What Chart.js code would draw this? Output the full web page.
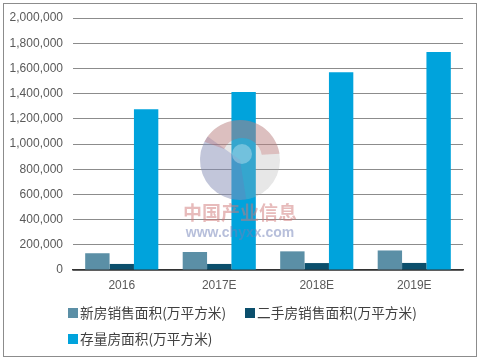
<!DOCTYPE html>
<html>
<head>
<meta charset="utf-8">
<script src="https://cdn.jsdelivr.net/npm/chart.js@4/dist/chart.umd.min.js"></script>
<style>
  html, body { margin: 0; padding: 0; background: #ffffff; }
  #wrap { position: relative; width: 480px; height: 359px; }
</style>
</head>
<body>
<div id="wrap"><canvas id="c" width="480" height="359"></canvas></div>
<script>
const categories = ['2016', '2017E', '2018E', '2019E'];
const seriesNames = ['新房销售面积(万平方米)', '二手房销售面积(万平方米)', '存量房面积(万平方米)'];
const newHouseSales = [133000, 143000, 148000, 155000];
const secondHandSales = [48000, 48000, 55000, 56000];
const stockArea = [1275000, 1413000, 1569000, 1730000];
const yTicksMax = 2000000;
const yTickStep = 200000;

const colors = ['#5b8fa6', '#0b4f6c', '#00a3dc'];
const legendPos = [{x: 68, y: 313}, {x: 245, y: 313}, {x: 68, y: 339}];

const decorPlugin = {
  id: 'decor',
  afterDatasetsDraw(chart) {
    const ctx = chart.ctx;
    ctx.save();
    // watermark logo
    const cx = 240, cy = 160, R = 40;
    ctx.globalAlpha = 0.3;
    ctx.fillStyle = '#b0b0b0';
    ctx.beginPath(); ctx.arc(cx, cy, R, 0, Math.PI * 2); ctx.fill();
    ctx.fillStyle = '#6a78b8';
    ctx.beginPath(); ctx.moveTo(cx, cy); ctx.arc(cx, cy, R, Math.PI * 0.45, Math.PI * 1.2); ctx.closePath(); ctx.fill();
    ctx.fillStyle = '#c06060';
    ctx.beginPath();
    ctx.arc(cx, cy, R, Math.PI * 1.15, Math.PI * 1.95);
    ctx.arc(cx + 2, cy - 2, 20, Math.PI * 1.95, Math.PI * 1.15, true);
    ctx.closePath(); ctx.fill();
    ctx.globalAlpha = 0.3;
    ctx.fillStyle = '#ffffff';
    ctx.beginPath(); ctx.arc(cx + 2, cy - 6, 10, 0, Math.PI * 2); ctx.fill();
    ctx.globalAlpha = 0.5;
    ctx.fillStyle = '#d07878';
    ctx.font = 'bold 19px "Noto Sans CJK SC"';
    ctx.textAlign = 'center';
    ctx.textBaseline = 'middle';
    ctx.fillText('中国产业信息', 240, 213);
    ctx.fillStyle = '#7080b8';
    ctx.font = 'bold 14px "Liberation Sans", Arial';
    ctx.fillText('www.chyxx.com', 240, 233);
    ctx.restore();
  },
  afterDraw(chart) {
    const ctx = chart.ctx;
    ctx.save();
    // outer border
    ctx.strokeStyle = '#8c8c8c';
    ctx.lineWidth = 1;
    ctx.strokeRect(3.5, 3.5, 473, 353);
    // legend
    ctx.font = '13.7px "Noto Sans CJK SC"';
    ctx.textAlign = 'left';
    ctx.textBaseline = 'middle';
    chart.data.datasets.forEach((ds, i) => {
      const p = legendPos[i];
      ctx.fillStyle = ds.backgroundColor;
      ctx.fillRect(p.x, p.y - 5, 10, 10);
      ctx.fillStyle = '#404040';
      ctx.fillText(ds.label, p.x + 12, p.y);
    });
    ctx.restore();
  }
};

new Chart(document.getElementById('c'), {
  type: 'bar',
  data: {
    labels: categories,
    datasets: [
      { label: seriesNames[0], data: newHouseSales, backgroundColor: colors[0] },
      { label: seriesNames[1], data: secondHandSales, backgroundColor: colors[1] },
      { label: seriesNames[2], data: stockArea, backgroundColor: colors[2] }
    ]
  },
  options: {
    responsive: false,
    animation: false,
    devicePixelRatio: 1,
    layout: { padding: { left: 7, right: 17, top: 18, bottom: 0 } },
    datasets: { bar: { categoryPercentage: 0.75, barPercentage: 1.0 } },
    plugins: {
      legend: { display: false },
      tooltip: { enabled: false }
    },
    scales: {
      x: {
        grid: { display: false, drawTicks: false },
        border: { display: true, color: '#333333', width: 1.5 },
        ticks: { color: '#595959', font: { family: '"Liberation Sans", Arial', size: 12 }, padding: 8 },
        afterFit(scale) { scale.height = 89; }
      },
      y: {
        min: 0,
        max: yTicksMax,
        grid: { color: '#8c8c8c', lineWidth: 1, drawTicks: false },
        border: { display: false },
        ticks: {
          stepSize: yTickStep,
          color: '#595959',
          font: { family: '"Liberation Sans", Arial', size: 12 },
          padding: 10,
          callback: v => v.toLocaleString('en-US')
        },
        afterFit(scale) { scale.width = 66; }
      }
    }
  },
  plugins: [decorPlugin]
});
</script>
</body>
</html>
